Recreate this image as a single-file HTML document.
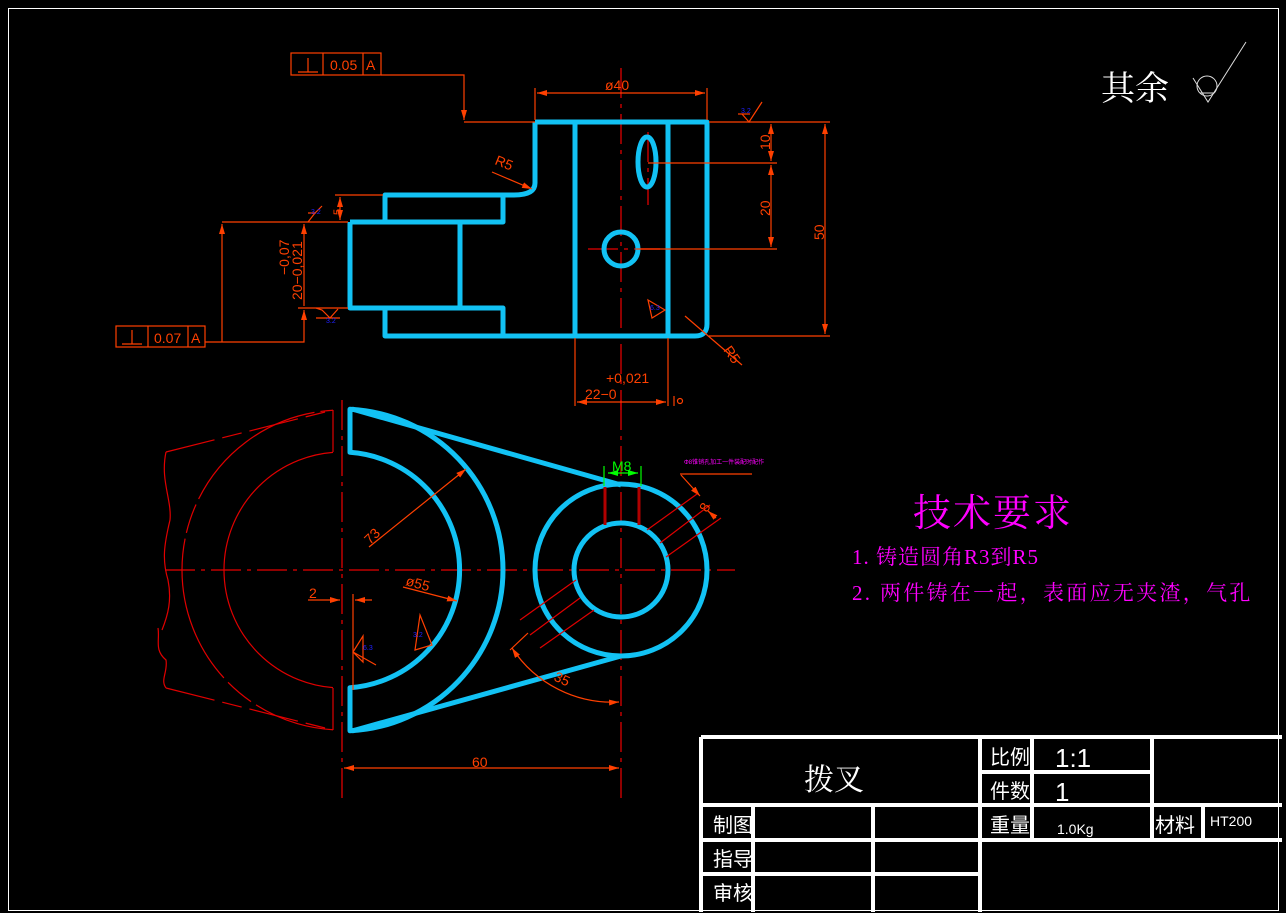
<!DOCTYPE html>
<html><head><meta charset="utf-8"><style>
html,body{margin:0;padding:0;background:#000;}
svg{display:block}
text{font-family:"Liberation Sans","Noto Sans CJK SC",sans-serif;}
.ser{font-family:"Liberation Serif","Noto Serif CJK SC",serif;}
</style></head><body>
<svg width="1286" height="913" viewBox="0 0 1286 913" xmlns="http://www.w3.org/2000/svg">
<defs>
<marker id="a" viewBox="0 0 10 6" refX="10" refY="3" markerWidth="10" markerHeight="6" orient="auto-start-reverse" markerUnits="userSpaceOnUse"><path d="M0,0L10,3L0,6Z" fill="#ff4000"/></marker>
<marker id="g" viewBox="0 0 10 6" refX="10" refY="3" markerWidth="10" markerHeight="6" orient="auto-start-reverse" markerUnits="userSpaceOnUse"><path d="M0,0L10,3L0,6Z" fill="#00ff00"/></marker>
<clipPath id="lc"><rect x="0" y="0" width="333" height="913"/></clipPath>
</defs>
<rect x="0" y="0" width="1286" height="913" fill="#000"/>
<rect x="8.5" y="8.5" width="1270" height="902" fill="none" stroke="#fff" stroke-width="1"/>

<g stroke="#c00000" stroke-width="1.5" fill="none" stroke-dasharray="30,6,4,6">
<line x1="621" y1="68" x2="621" y2="410"/>
<line x1="165" y1="570" x2="735" y2="570"/>
<line x1="621" y1="400" x2="621" y2="800"/>
<line x1="342" y1="400" x2="342" y2="800"/>
<line x1="588" y1="249" x2="660" y2="249"/>
<line x1="648" y1="132" x2="648" y2="205"/>
</g>

<g stroke="#e00000" stroke-width="1.2" fill="none">
<line x1="333" y1="410" x2="333" y2="452"/>
<line x1="333" y1="688" x2="333" y2="730"/>
<g clip-path="url(#lc)">
<circle cx="342" cy="570" r="118"/>
<circle cx="342" cy="570" r="160" stroke-dasharray="150,6,30,6"/>
</g>
<path d="M166,452 L333,410" stroke-dasharray="50,8,20,8"/>
<path d="M166,688 L333,730" stroke-dasharray="50,8,20,8"/>
<path d="M166,452 C160,480 172,500 170,520 C164,545 162,560 168,580 C172,600 168,615 162,630 M158,628 C160,640 154,650 166,660 C168,672 160,680 166,688"/>
</g>

<g stroke="#12c2f4" stroke-width="5" fill="none" stroke-linejoin="round">
<path d="M535,122 L707,122 L707,324 Q707,336 695,336 L385,336 L385,308"/>
<path d="M535,122 L535,183 Q535,195 514,195 L385,195 L385,222"/>
<path d="M350,222 L503,222 L503,195"/>
<path d="M350,222 L350,308 L503,308 L503,336"/>
<line x1="460" y1="222" x2="460" y2="308"/>
<line x1="575" y1="122" x2="575" y2="336"/>
<line x1="668" y1="122" x2="668" y2="336"/>
<ellipse cx="647" cy="162" rx="9" ry="25"/>
<circle cx="621" cy="249" r="17"/>
<path d="M350,409.2 L350,452.3 A118,118 0 0 1 350,687.7 L350,730.8 A161,161 0 0 0 350,409.2 Z"/>
<line x1="352" y1="409" x2="621" y2="485"/>
<line x1="352" y1="731" x2="621" y2="656"/>
<circle cx="621" cy="570" r="86"/>
<circle cx="621" cy="570" r="47"/>
</g>

<g stroke="#ff4000" stroke-width="1.2" fill="none">
<rect x="291" y="53" width="90" height="22"/>
<line x1="323" y1="53" x2="323" y2="75"/><line x1="363" y1="53" x2="363" y2="75"/>
<line x1="298" y1="72" x2="318" y2="72"/><line x1="308" y1="58" x2="308" y2="72"/>
<path d="M381,75 L464,75 L464,120" marker-end="url(#a)"/>
<line x1="464" y1="122" x2="535" y2="122"/>
<line x1="535" y1="88" x2="535" y2="120"/><line x1="707" y1="88" x2="707" y2="120"/>
<line x1="537" y1="93" x2="705" y2="93" marker-start="url(#a)" marker-end="url(#a)"/>
<line x1="709" y1="122" x2="830" y2="122"/>
<line x1="648" y1="163" x2="777" y2="163"/>
<line x1="636" y1="249" x2="777" y2="249"/>
<line x1="709" y1="336" x2="830" y2="336"/>
<line x1="771" y1="124" x2="771" y2="161" marker-start="url(#a)" marker-end="url(#a)"/>
<line x1="771" y1="165" x2="771" y2="247" marker-start="url(#a)" marker-end="url(#a)"/>
<line x1="825" y1="124" x2="825" y2="334" marker-start="url(#a)" marker-end="url(#a)"/>
<path d="M742,114 L749,122 L762,102"/><line x1="738" y1="114" x2="750" y2="114"/>
<rect x="116" y="326" width="89" height="21"/>
<line x1="148" y1="326" x2="148" y2="347"/><line x1="188" y1="326" x2="188" y2="347"/>
<line x1="122" y1="344" x2="142" y2="344"/><line x1="132" y1="330" x2="132" y2="344"/>
<path d="M205,342 L304,342 L304,310" marker-end="url(#a)"/>
<line x1="304" y1="224" x2="304" y2="306" marker-start="url(#a)"/>
<line x1="222" y1="342" x2="222" y2="224" marker-end="url(#a)"/>
<line x1="222" y1="222" x2="348" y2="222"/>
<line x1="298" y1="308" x2="348" y2="308"/>
<line x1="335" y1="195" x2="383" y2="195"/>
<line x1="340" y1="197" x2="340" y2="220" marker-start="url(#a)" marker-end="url(#a)"/>
<path d="M308,222 L315,213 M322,206 L315,213 L308,213"/>
<path d="M316,308 L322,310 L330,318 L338,309 M316,318 L340,318"/>
<line x1="575" y1="338" x2="575" y2="406"/><line x1="668" y1="338" x2="668" y2="406"/>
<line x1="577" y1="402" x2="666" y2="402" marker-start="url(#a)" marker-end="url(#a)"/>
<line x1="492" y1="172" x2="532" y2="189" marker-end="url(#a)"/>
<line x1="685" y1="316" x2="742" y2="365"/>
<path d="M648,300 L665,310 L652,318 Z"/>
<circle cx="680" cy="401" r="2.5"/><line x1="674" y1="396" x2="674" y2="406"/>
</g>
<g fill="#ff4000" font-size="14">
<text x="330" y="70">0.05</text><text x="366" y="70">A</text>
<text x="154" y="343">0.07</text><text x="191" y="343">A</text>
<text x="605" y="90">ø40</text>
<text transform="translate(770,150) rotate(-90)">10</text>
<text transform="translate(770,216) rotate(-90)">20</text>
<text transform="translate(824,240) rotate(-90)">50</text>
<text transform="translate(302,300) rotate(-90)">20−0,021</text>
<text transform="translate(289,275) rotate(-90)">−0,07</text>
<text transform="translate(341,215) rotate(-90)" font-size="11">5</text>
<text x="585" y="399">22−0</text>
<text x="606" y="383">+0,021</text>
<text transform="translate(494,164) rotate(22)">R5</text>
<text transform="translate(723,350) rotate(55)">R5</text>
</g>

<g stroke="#ff4000" stroke-width="1.2" fill="none">
<line x1="344" y1="768" x2="619" y2="768" marker-start="url(#a)" marker-end="url(#a)"/>
<line x1="369" y1="547" x2="466" y2="469" marker-end="url(#a)"/>
<line x1="403" y1="587" x2="457" y2="601" marker-end="url(#a)"/>
<line x1="308" y1="600" x2="340" y2="600" marker-end="url(#a)"/>
<line x1="372" y1="600" x2="355" y2="600" marker-end="url(#a)"/>
<line x1="353" y1="594" x2="353" y2="690"/>
<path d="M353,652 L363,636 L363,662 Z M353,652 L376,665"/>
<path d="M420,615 L432,645 L415,650 Z"/>
<path d="M512,648 A120,120 0 0 0 619,702" marker-start="url(#a)" marker-end="url(#a)"/>
<line x1="510" y1="650" x2="528" y2="633"/>
<line x1="681" y1="475" x2="700" y2="496" marker-end="url(#a)"/>
<line x1="716" y1="518" x2="708" y2="511" marker-end="url(#a)"/>
<line x1="680" y1="474" x2="752" y2="474"/>
</g>
<g stroke="#e00000" stroke-width="1.2">
<line x1="647" y1="530" x2="697" y2="494"/>
<line x1="660" y1="543" x2="710" y2="505"/>
<line x1="666" y1="557" x2="721" y2="518"/>
<line x1="520" y1="620" x2="576" y2="580"/>
<line x1="530" y1="635" x2="580" y2="598"/>
<line x1="540" y1="648" x2="594" y2="610"/>
</g>
<g stroke="#b00000" stroke-width="3">
<line x1="605" y1="487" x2="605" y2="525"/>
<line x1="639" y1="487" x2="639" y2="525"/>
</g>
<g stroke="#00ff00" stroke-width="1.2" fill="none">
<line x1="608" y1="473" x2="638" y2="473" marker-start="url(#g)" marker-end="url(#g)"/>
<line x1="604" y1="466" x2="604" y2="486"/><line x1="641" y1="466" x2="641" y2="486"/>
</g>
<text x="612" y="471" fill="#00ff00" font-size="14">M8</text>
<g fill="#ff4000" font-size="14">
<text x="472" y="767">60</text>
<text transform="translate(370,545) rotate(-45)">73</text>
<text transform="translate(405,585) rotate(15)">ø55</text>
<text x="309" y="598">2</text>
<text transform="translate(553,680) rotate(25)">35</text>
<text transform="translate(707,513) rotate(-60)">8</text>
</g>
<g fill="#2020ff" font-size="7"><text x="311" y="214">3.2</text><text x="326" y="323">3.2</text><text x="650" y="310">6.3</text><text x="413" y="637">3.2</text><text x="363" y="650">6.3</text><text x="741" y="113">3.2</text></g>
<text x="684" y="464" fill="#ff00ff" font-size="6">Φ8锥销孔加工一件装配时配作</text>

<text x="1101" y="100" fill="#fff" font-size="34" class="ser">其余</text>
<g stroke="#ddd" stroke-width="1" fill="none"><circle cx="1207" cy="86" r="10"/><path d="M1193,78 L1208,102 L1246,42"/><line x1="1200" y1="93" x2="1214" y2="93"/></g>
<text x="913" y="526" fill="#ff00ff" font-size="38" class="ser" letter-spacing="2">技术要求</text>
<text x="852" y="564" fill="#ff00ff" font-size="21" class="ser" letter-spacing="1">1. 铸造圆角R3到R5</text>
<text x="852" y="600" fill="#ff00ff" font-size="21" class="ser" letter-spacing="2.3">2. 两件铸在一起，表面应无夹渣，气孔</text>

<g stroke="#fff" stroke-width="4" fill="none">
<line x1="701" y1="737" x2="1282" y2="737"/>
<line x1="980" y1="772" x2="1152" y2="772"/>
<line x1="701" y1="805" x2="1282" y2="805"/>
<line x1="701" y1="840" x2="1282" y2="840"/>
<line x1="701" y1="874" x2="980" y2="874"/>
<line x1="701" y1="737" x2="701" y2="912"/>
<line x1="753" y1="805" x2="753" y2="912"/>
<line x1="873" y1="805" x2="873" y2="912"/>
<line x1="980" y1="737" x2="980" y2="912"/>
<line x1="1032" y1="737" x2="1032" y2="840"/>
<line x1="1152" y1="737" x2="1152" y2="840"/>
<line x1="1203" y1="805" x2="1203" y2="840"/>
</g>
<g fill="#fff">
<text x="804" y="790" font-size="30" class="ser">拨叉</text>
<text x="990" y="764" font-size="20">比例</text>
<text x="990" y="798" font-size="20">件数</text>
<text x="990" y="832" font-size="20">重量</text>
<text x="1155" y="832" font-size="20">材料</text>
<text x="713" y="832" font-size="20">制图</text>
<text x="713" y="866" font-size="20">指导</text>
<text x="713" y="900" font-size="20">审核</text>
<text x="1055" y="767" font-size="26">1:1</text>
<text x="1055" y="801" font-size="26">1</text>
<text x="1057" y="834" font-size="14">1.0Kg</text>
<text x="1210" y="826" font-size="14">HT200</text>
</g>
</svg>
</body></html>
